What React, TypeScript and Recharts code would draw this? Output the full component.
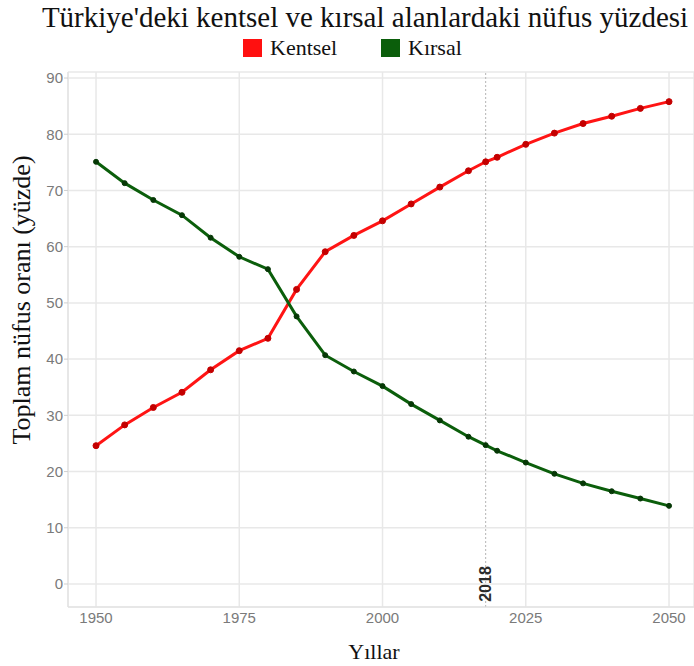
import React from "react";
import { LineChart, Line, XAxis, YAxis, CartesianGrid, ReferenceLine } from "recharts";

const years = [1950, 1955, 1960, 1965, 1970, 1975, 1980, 1985, 1990, 1995, 2000, 2005, 2010, 2015, 2018, 2020, 2025, 2030, 2035, 2040, 2045, 2050];
const kentsel = [24.6, 28.3, 31.4, 34.1, 38.1, 41.5, 43.7, 52.4, 59.1, 62.0, 64.6, 67.6, 70.6, 73.5, 75.1, 75.9, 78.2, 80.2, 81.9, 83.2, 84.6, 85.8];
const kirsal = [75.1, 71.3, 68.3, 65.6, 61.6, 58.2, 56.0, 47.6, 40.7, 37.8, 35.2, 32.0, 29.1, 26.2, 24.7, 23.7, 21.6, 19.6, 17.9, 16.5, 15.2, 13.9];
const xTicks = [1950, 1975, 2000, 2025, 2050];
const yTicks = [0, 10, 20, 30, 40, 50, 60, 70, 80, 90];
const seriesNames = ["Kentsel", "Kırsal"];
const markerYear = 2018;

const data = years.map((y, i) => ({ year: y, kentsel: kentsel[i], kirsal: kirsal[i] }));

const serif = "'Liberation Serif', 'Times New Roman', serif";
const sans = "'Liberation Sans', Arial, sans-serif";

const MarkerLabel = (props: any) => {
  const vb = props.viewBox || {};
  const x = vb.x;
  const cy = 584;
  return (
    <text
      x={x}
      y={cy}
      transform={`rotate(-90, ${x}, ${cy})`}
      textAnchor="middle"
      dominantBaseline="central"
      fontFamily={sans}
      fontSize={16}
      fontWeight="bold"
      fill="#2b2b2b"
    >
      {String(markerYear)}
    </text>
  );
};

export default function App() {
  return (
    <div style={{ position: "absolute", left: 0, top: 0, width: 694, height: 666, background: "#fff", overflow: "hidden" }}>
      <div
        style={{
          position: "absolute",
          left: 0,
          width: 730,
          top: 1,
          textAlign: "center",
          fontFamily: serif,
          fontSize: 29,
          lineHeight: "32px",
          color: "#111",
          whiteSpace: "nowrap",
        }}
      >
        Türkiye'deki kentsel ve kırsal alanlardaki nüfus yüzdesi
      </div>
      <div style={{ position: "absolute", left: 243, top: 39, width: 19, height: 18, background: "#ff1010" }} />
      <div style={{ position: "absolute", left: 270, top: 35, fontFamily: serif, fontSize: 22, lineHeight: "26px", color: "#111" }}>
        {seriesNames[0]}
      </div>
      <div style={{ position: "absolute", left: 381, top: 39, width: 19, height: 18, background: "#0b5e0b" }} />
      <div style={{ position: "absolute", left: 408, top: 35, fontFamily: serif, fontSize: 22, lineHeight: "26px", color: "#111" }}>
        {seriesNames[1]}
      </div>
      <div
        style={{
          position: "absolute",
          left: 22,
          top: 300,
          transform: "translate(-50%, -50%) rotate(-90deg)",
          fontFamily: serif,
          fontSize: 26,
          color: "#111",
          whiteSpace: "nowrap",
        }}
      >
        Toplam nüfus oranı (yüzde)
      </div>
      <div
        style={{
          position: "absolute",
          left: 374,
          top: 652,
          transform: "translate(-50%, -50%)",
          fontFamily: serif,
          fontSize: 22,
          color: "#111",
          whiteSpace: "nowrap",
        }}
      >
        Yıllar
      </div>
      <div style={{ position: "absolute", left: 0, top: 0 }}>
        <LineChart width={694} height={666} data={data} margin={{ top: 72, right: 0, bottom: 29, left: 38 }}>
          <CartesianGrid stroke="#e8e8e8" strokeWidth={1.5} />
          <XAxis
            dataKey="year"
            type="number"
            domain={[1945.11, 2054.36]}
            allowDataOverflow
            ticks={xTicks}
            height={30}
            tickSize={0}
            tickMargin={5}
            axisLine={{ stroke: "#e0e0e0" }}
            tick={{ fontFamily: sans, fontSize: 15, fill: "#7a7a7a" }}
          />
          <YAxis
            type="number"
            domain={[-4.09, 91.07]}
            allowDataOverflow
            ticks={yTicks}
            width={30}
            tickSize={4}
            tickMargin={1}
            axisLine={{ stroke: "#e0e0e0" }}
            tickLine={{ stroke: "#cfcfcf" }}
            tick={{ fontFamily: sans, fontSize: 15, fill: "#7a7a7a" }}
          />
          <ReferenceLine x={markerYear} stroke="#b5b5b5" strokeDasharray="2 2" label={<MarkerLabel />} />
          <Line
            dataKey="kentsel"
            name={seriesNames[0]}
            stroke="#ff1414"
            strokeWidth={3}
            dot={{ r: 3, fill: "#c40000", stroke: "#c40000", strokeWidth: 1 }}
            isAnimationActive={false}
          />
          <Line
            dataKey="kirsal"
            name={seriesNames[1]}
            stroke="#0b5e0b"
            strokeWidth={3}
            dot={{ r: 2.5, fill: "#063806", stroke: "#063806", strokeWidth: 1 }}
            isAnimationActive={false}
          />
        </LineChart>
      </div>
    </div>
  );
}
